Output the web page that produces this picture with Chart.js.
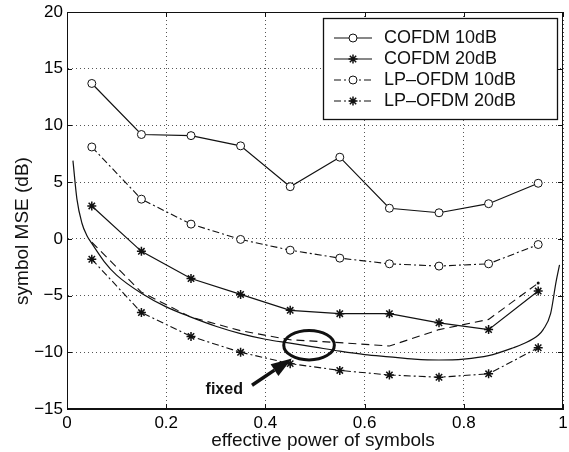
<!DOCTYPE html>
<html>
<head>
<meta charset="utf-8">
<script src="https://cdn.jsdelivr.net/npm/chart.js"></script>
<style>
  html, body { margin: 0; padding: 0; background: #fff; }
</style>
</head>
<body>
<canvas id="mseChart" width="569" height="452"></canvas>
<script>
// effective power values where the four measured curves were sampled
const powers = [0.05, 0.15, 0.25, 0.35, 0.45, 0.55, 0.65, 0.75, 0.85, 0.95];

const cofdm10 = [13.7, 9.2, 9.1, 8.2, 4.6, 7.2, 2.7, 2.3, 3.1, 4.9];
const cofdm20 = [2.9, -1.1, -3.5, -4.9, -6.3, -6.6, -6.6, -7.4, -8.0, -4.6];
const lpofdm10 = [8.1, 3.5, 1.3, -0.05, -1.0, -1.7, -2.2, -2.4, -2.2, -0.5];
const lpofdm20 = [-1.8, -6.5, -8.6, -10.0, -11.0, -11.6, -12.0, -12.2, -11.9, -9.6];

// dashed curve (no markers)
const dashedY = [-0.3, -4.7, -6.9, -8.1, -8.9, -9.15, -9.45, -8.0, -7.1, -3.9];

// smooth solid curve (no markers)
const curveX = [0.012, 0.02, 0.03, 0.04, 0.05, 0.075, 0.1, 0.15, 0.2, 0.25, 0.3, 0.35, 0.4, 0.45, 0.5,
                0.55, 0.6, 0.65, 0.7, 0.75, 0.8, 0.85, 0.9, 0.92, 0.95, 0.96, 0.975, 0.986, 0.993];
const curveY = [6.9, 3.5, 1.4, 0.3, -0.4, -2.0, -3.2, -4.8, -6.0, -6.9, -7.7, -8.35, -8.85, -9.2, -9.55,
                -9.9, -10.2, -10.4, -10.6, -10.68, -10.6, -10.3, -9.6, -9.25, -8.5, -8.0, -6.6, -3.8, -2.3];

const xTickLabels = ['0', '0.2', '0.4', '0.6', '0.8', '1'];
const yTickValues = [-15, -10, -5, 0, 5, 10, 15, 20];
const yTickLabels = ['\u221215', '\u221210', '\u22125', '0', '5', '10', '15', '20'];

// annotation: ellipse around the "fixed" curves, arrow and label (data units)
const ellipseAt = { x: 0.488, y: -9.37, rx: 0.051, ry: 1.3 };
const arrowFrom = { x: 0.373, y: -12.9 };
const arrowTo = { x: 0.4535, y: -10.54 };
const noteAt = { x: 0.317, y: -13.25, text: 'fixed' };

const FONT = "'Liberation Sans', Arial, Helvetica, sans-serif";
const INK = '#111';

function pts(xs, ys) {
    return xs.map((x, i) => ({ x: x, y: ys[i] }));
}

function drawMarker(ctx, style, x, y, r) {
    ctx.save();
    ctx.strokeStyle = INK;
    ctx.setLineDash([]);
    if (style === 'circle') {
        ctx.lineWidth = 1;
        ctx.fillStyle = '#fff';
        ctx.beginPath();
        ctx.arc(x, y, r, 0, Math.PI * 2);
        ctx.fill();
        ctx.stroke();
    } else {
        ctx.lineWidth = 1.5;
        ctx.beginPath();
        for (let k = 0; k < 4; k++) {
            const a = k * Math.PI / 4;
            ctx.moveTo(x - r * Math.cos(a), y - r * Math.sin(a));
            ctx.lineTo(x + r * Math.cos(a), y + r * Math.sin(a));
        }
        ctx.stroke();
    }
    ctx.restore();
}

const framePlugin = {
    id: 'frame',
    afterDraw(chart) {
        const { ctx, chartArea: a, scales } = chart;
        ctx.save();
        ctx.strokeStyle = INK;
        ctx.lineWidth = 1;
        ctx.strokeRect(a.left + 0.5, a.top + 0.5, a.right - a.left - 1, a.bottom - a.top - 1);
        // inward tick marks on all four sides
        ctx.beginPath();
        scales.x.ticks.forEach(t => {
            const px = Math.round(scales.x.getPixelForValue(t.value)) + 0.5;
            ctx.moveTo(px, a.bottom); ctx.lineTo(px, a.bottom - 5);
            ctx.moveTo(px, a.top); ctx.lineTo(px, a.top + 5);
        });
        scales.y.ticks.forEach(t => {
            const py = Math.round(scales.y.getPixelForValue(t.value)) + 0.5;
            ctx.moveTo(a.left, py); ctx.lineTo(a.left + 5, py);
            ctx.moveTo(a.right, py); ctx.lineTo(a.right - 5, py);
        });
        ctx.stroke();
        ctx.restore();
    }
};

const notesPlugin = {
    id: 'notes',
    afterDraw(chart) {
        const { ctx, chartArea: a, scales: { x, y } } = chart;
        ctx.save();

        // axis titles
        ctx.fillStyle = INK;
        ctx.font = '19px ' + FONT;
        ctx.textAlign = 'center';
        ctx.textBaseline = 'middle';
        ctx.fillText('effective power of symbols', 323, 441);
        ctx.save();
        ctx.translate(23, 231);
        ctx.rotate(-Math.PI / 2);
        ctx.fillText('symbol MSE (dB)', 0, 0);
        ctx.restore();

        // ellipse
        const cx = x.getPixelForValue(ellipseAt.x);
        const cy = y.getPixelForValue(ellipseAt.y);
        const rx = x.getPixelForValue(ellipseAt.x + ellipseAt.rx) - cx;
        const ry = cy - y.getPixelForValue(ellipseAt.y + ellipseAt.ry);
        ctx.strokeStyle = INK;
        ctx.lineWidth = 3;
        ctx.beginPath();
        ctx.ellipse(cx, cy, rx, ry, 0, 0, Math.PI * 2);
        ctx.stroke();

        // arrow
        const x0 = x.getPixelForValue(arrowFrom.x), y0 = y.getPixelForValue(arrowFrom.y);
        const x1 = x.getPixelForValue(arrowTo.x), y1 = y.getPixelForValue(arrowTo.y);
        const ang = Math.atan2(y1 - y0, x1 - x0);
        const headLen = 21, headW = 7;
        const bx = x1 - headLen * Math.cos(ang), by = y1 - headLen * Math.sin(ang);
        ctx.lineWidth = 3.5;
        ctx.beginPath();
        ctx.moveTo(x0, y0);
        ctx.lineTo(bx, by);
        ctx.stroke();
        ctx.fillStyle = INK;
        ctx.beginPath();
        ctx.moveTo(x1, y1);
        ctx.lineTo(bx + headW * Math.sin(ang), by - headW * Math.cos(ang));
        ctx.lineTo(bx - headW * Math.sin(ang), by + headW * Math.cos(ang));
        ctx.closePath();
        ctx.fill();

        ctx.font = 'bold 16px ' + FONT;
        ctx.textAlign = 'center';
        ctx.textBaseline = 'middle';
        ctx.fillText(noteAt.text, x.getPixelForValue(noteAt.x), y.getPixelForValue(noteAt.y));

        // legend box
        const items = chart.data.datasets.filter(d => d.label);
        const bw = 234, bh = 101;
        const left = a.right - 6 - bw, top = a.top + 6;
        ctx.fillStyle = '#fff';
        ctx.fillRect(left, top, bw, bh);
        ctx.lineWidth = 1.3;
        ctx.strokeRect(left + 0.5, top + 0.5, bw, bh);
        ctx.font = '18px ' + FONT;
        ctx.textAlign = 'left';
        items.forEach((d, i) => {
            const ly = top + 20 + i * 21;
            ctx.save();
            ctx.strokeStyle = INK;
            ctx.lineWidth = 1.2;
            ctx.setLineDash(d.borderDash || []);
            ctx.beginPath();
            ctx.moveTo(left + 11, ly);
            ctx.lineTo(left + 49, ly);
            ctx.stroke();
            ctx.restore();
            drawMarker(ctx, d.pointStyle, left + 30, ly, d.pointStyle === 'circle' ? 4 : 4.5);
            ctx.fillStyle = INK;
            ctx.fillText(d.label, left + 61, ly);
        });

        ctx.restore();
    }
};

const markerSet = (style) => ({
    pointStyle: style,
    pointRadius: style === 'circle' ? 4 : 4.5,
    pointBorderWidth: style === 'circle' ? 1 : 1.5,
    pointBackgroundColor: '#fff',
    pointBorderColor: INK,
    pointHoverRadius: 4
});

new Chart(document.getElementById('mseChart'), {
    type: 'line',
    data: {
        datasets: [
            Object.assign({
                label: 'COFDM 10dB',
                data: pts(powers, cofdm10),
                borderColor: INK, borderWidth: 1.2, borderDash: []
            }, markerSet('circle')),
            Object.assign({
                label: 'COFDM 20dB',
                data: pts(powers, cofdm20),
                borderColor: INK, borderWidth: 1.2, borderDash: []
            }, markerSet('star')),
            Object.assign({
                label: 'LP\u2013OFDM 10dB',
                data: pts(powers, lpofdm10),
                borderColor: INK, borderWidth: 1.1, borderDash: [7, 3, 2, 3]
            }, markerSet('circle')),
            Object.assign({
                label: 'LP\u2013OFDM 20dB',
                data: pts(powers, lpofdm20),
                borderColor: INK, borderWidth: 1.1, borderDash: [7, 3, 2, 3]
            }, markerSet('star')),
            {
                label: '',
                data: pts(powers, dashedY),
                borderColor: INK, borderWidth: 1.1, borderDash: [8, 5],
                pointRadius: ctx => ctx.dataIndex === powers.length - 1 ? 1.5 : 0,
                pointBackgroundColor: INK, pointBorderWidth: 0
            },
            {
                label: '',
                data: pts(curveX, curveY),
                borderColor: INK, borderWidth: 1.2,
                cubicInterpolationMode: 'monotone',
                pointRadius: 0
            }
        ]
    },
    options: {
        responsive: false,
        animation: false,
        devicePixelRatio: 1,
        layout: { padding: { top: 12, right: 3, left: 0, bottom: 0 } },
        plugins: {
            legend: { display: false },
            tooltip: { enabled: false }
        },
        scales: {
            x: {
                type: 'linear',
                min: 0, max: 1,
                ticks: {
                    stepSize: 0.2,
                    color: '#000',
                    font: { family: FONT, size: 17 },
                    padding: 4,
                    maxRotation: 0,
                    callback: (v, i) => xTickLabels[i]
                },
                grid: { color: '#555', lineWidth: 1, drawTicks: false },
                border: { display: true, color: INK, dash: [1, 3] },
                afterFit(scale) {
                    scale.height = 43;
                    scale.paddingLeft = 0;
                    scale.paddingRight = 0;
                }
            },
            y: {
                min: -15, max: 20,
                ticks: {
                    stepSize: 5,
                    color: '#000',
                    font: { family: FONT, size: 17 },
                    padding: 4,
                    callback: v => {
                        const i = yTickValues.indexOf(v);
                        return i >= 0 ? yTickLabels[i] : '';
                    }
                },
                grid: { color: '#555', lineWidth: 1, drawTicks: false },
                border: { display: true, color: INK, dash: [1, 3] },
                afterFit(scale) {
                    scale.width = 67;
                    scale.paddingTop = 0;
                    scale.paddingBottom = 0;
                }
            }
        }
    },
    plugins: [framePlugin, notesPlugin]
});
</script>
</body>
</html>
